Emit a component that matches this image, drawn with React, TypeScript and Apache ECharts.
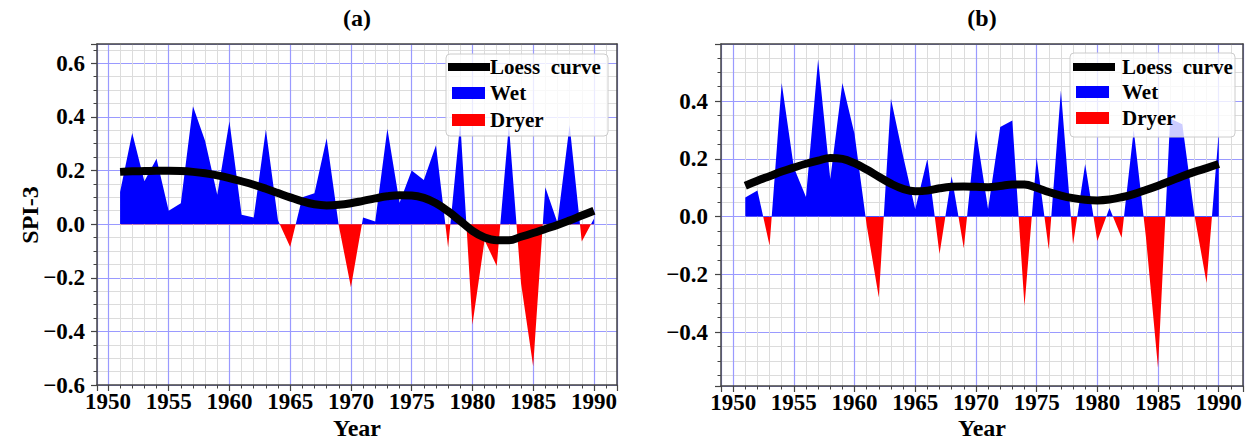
import React, { useEffect, useRef } from "react";
import * as echarts from "echarts";

// ---------- data ----------
const years = [
  1951, 1952, 1953, 1954, 1955, 1956, 1957, 1958, 1959, 1960,
  1961, 1962, 1963, 1964, 1965, 1966, 1967, 1968, 1969, 1970,
  1971, 1972, 1973, 1974, 1975, 1976, 1977, 1978, 1979, 1980,
  1981, 1982, 1983, 1984, 1985, 1986, 1987, 1988, 1989, 1990,
];

const spiA = [
  0.12, 0.34, 0.16, 0.244, 0.05, 0.078, 0.44, 0.31, 0.11, 0.384,
  0.035, 0.025, 0.353, 0.014, -0.085, 0.1, 0.115, 0.32, -0.005, -0.235,
  0.025, 0.01, 0.356, 0.08, 0.2, 0.165, 0.294, -0.0875, 0.38, -0.375,
  -0.06, -0.156, 0.37, -0.22, -0.53, 0.138, 0.005, 0.37, -0.065, 0.02,
];

const loessA = [
  0.195, 0.197, 0.198, 0.199, 0.199, 0.198, 0.195, 0.19, 0.182, 0.172,
  0.16, 0.147, 0.132, 0.116, 0.1, 0.085, 0.074, 0.07, 0.072, 0.078,
  0.087, 0.096, 0.104, 0.108, 0.107, 0.098, 0.078, 0.048, 0.012, -0.025,
  -0.05, -0.06, -0.06, -0.047, -0.033, -0.018, -0.003, 0.014, 0.032, 0.05,
];

const spiB = [
  0.066, 0.09, -0.1, 0.463, 0.17, 0.068, 0.544, 0.13, 0.463, 0.286,
  -0.03, -0.28, 0.408, 0.21, 0.025, 0.2, -0.13, 0.14, -0.11, 0.3,
  0.026, 0.31, 0.333, -0.31, 0.205, -0.114, 0.437, -0.096, 0.182, -0.085,
  0.03, -0.073, 0.3, -0.07, -0.525, 0.34, 0.32, 0.005, -0.23, 0.29,
];

const loessB = [
  0.107, 0.124, 0.14, 0.156, 0.17, 0.183, 0.194, 0.203, 0.2, 0.185,
  0.163, 0.138, 0.114, 0.096, 0.088, 0.09, 0.098, 0.103, 0.104, 0.103,
  0.102, 0.106, 0.111, 0.111, 0.1, 0.085, 0.073, 0.064, 0.058, 0.056,
  0.059, 0.067, 0.078, 0.092, 0.107, 0.123, 0.14, 0.155, 0.168, 0.182,
];

const panelTitles = ["(a)", "(b)"];
const xAxisName = "Year";
const yAxisName = "SPI-3";
const legendNames = ["Loess curve", "Wet", "Dryer"];

// ---------- styles ----------
const FONT = "Liberation Serif, Times New Roman, serif";
const FRAME = "#444444";
const MAJOR = "#9a9aff";
const MINOR = "#dcdcdc";
const WET = "#0000ff";
const DRY = "#ff0000";

const labelStyle = {
  fontFamily: FONT,
  fontWeight: "bold" as const,
  fontSize: 23,
  color: "#000",
};

const fmtYear = (v: number) => (Math.abs(v - Math.round(v / 5) * 5) < 1e-6 ? String(Math.round(v)) : "");
const fmtSpi = (v: number) => {
  if (Math.abs(v * 5 - Math.round(v * 5)) > 1e-6) return "";
  const s = (Math.round(v * 10) / 10).toFixed(1);
  return s.replace("-", "\u2212");
};

function mainX(gi: number, min: number, max: number) {
  return {
    type: "value",
    gridIndex: gi,
    min,
    max,
    minInterval: 5,
    maxInterval: 5,
    position: "bottom",
    axisLine: { show: true, onZero: false, lineStyle: { color: FRAME, width: 1.5 } },
    axisTick: { show: true, length: 6, lineStyle: { color: FRAME, width: 1.2 } },
    minorTick: { show: true, splitNumber: 5, length: 3.5, lineStyle: { color: FRAME, width: 1 } },
    axisLabel: { ...labelStyle, margin: 6, lineHeight: 20, formatter: fmtYear },
    splitLine: { show: true, lineStyle: { color: MAJOR, width: 1.2 } },
    minorSplitLine: { show: true, lineStyle: { color: MINOR, width: 1 } },
  };
}
function frameX(gi: number, min: number, max: number) {
  return {
    type: "value",
    gridIndex: gi,
    min,
    max,
    position: "top",
    axisLine: { show: true, onZero: false, lineStyle: { color: FRAME, width: 1.5 } },
    axisTick: { show: false },
    axisLabel: { show: false },
    splitLine: { show: false },
  };
}
function mainY(gi: number, min: number, max: number, margin: number) {
  return {
    type: "value",
    gridIndex: gi,
    min,
    max,
    minInterval: 0.2,
    maxInterval: 0.2,
    position: "left",
    axisLine: { show: true, onZero: false, lineStyle: { color: FRAME, width: 1.5 } },
    axisTick: { show: true, length: 6, lineStyle: { color: FRAME, width: 1.2 } },
    minorTick: { show: true, splitNumber: 4, length: 3.5, lineStyle: { color: FRAME, width: 1 } },
    axisLabel: { ...labelStyle, margin, formatter: fmtSpi },
    splitLine: { show: true, lineStyle: { color: MAJOR, width: 1.2 } },
    minorSplitLine: { show: true, lineStyle: { color: MINOR, width: 1 } },
  };
}
function frameY(gi: number, min: number, max: number) {
  return {
    type: "value",
    gridIndex: gi,
    min,
    max,
    position: "right",
    axisLine: { show: true, onZero: false, lineStyle: { color: FRAME, width: 1.5 } },
    axisTick: { show: false },
    axisLabel: { show: false },
    splitLine: { show: false },
  };
}

function legendGraphic(box: { x: number; y: number; w: number; h: number }, lineX: number, rectX: number, textX: number, ys: number[]) {
  const txt = (t: string, y: number) => ({
    type: "text",
    x: textX,
    y,
    z: 101,
    style: {
      text: t,
      fontFamily: FONT,
      fontWeight: "bold",
      fontSize: 21,
      fill: "#000",
      align: "left",
      verticalAlign: "middle",
    },
  });
  return [
    {
      type: "rect",
      z: 100,
      shape: { x: box.x, y: box.y, width: box.w, height: box.h, r: 4 },
      style: { fill: "rgba(255,255,255,0.8)", stroke: "#cccccc", lineWidth: 1 },
    },
    {
      type: "line",
      z: 101,
      shape: { x1: lineX, y1: ys[0], x2: lineX + 42, y2: ys[0] },
      style: { stroke: "#000", lineWidth: 8 },
    },
    {
      type: "rect",
      z: 101,
      shape: { x: rectX, y: ys[1] - 6, width: 33, height: 12 },
      style: { fill: WET },
    },
    {
      type: "rect",
      z: 101,
      shape: { x: rectX, y: ys[2] - 6, width: 33, height: 12 },
      style: { fill: DRY },
    },
    txt(legendNames[0].replace(" ", "\u00a0 "), ys[0]),
    txt(legendNames[1], ys[1]),
    txt(legendNames[2], ys[2]),
  ];
}

function textEl(t: string, x: number, y: number, size: number, rotation = 0) {
  return {
    type: "text",
    x,
    y,
    rotation,
    z: 50,
    style: {
      text: t,
      fontFamily: FONT,
      fontWeight: "bold",
      fontSize: size,
      fill: "#000",
      align: "center",
      verticalAlign: "middle",
    },
  };
}

const signPieces = [
  { gte: -10, lt: 0, color: DRY },
  { gte: 0, lte: 10, color: WET },
];

export default function App() {
  const ref = useRef<HTMLDivElement>(null);

  useEffect(() => {
    if (!ref.current) return;
    const chart = echarts.init(ref.current, undefined, { renderer: "svg" });

    const dataA = years.map((y, i) => [y, spiA[i]]);
    const dataLA = years.map((y, i) => [y, loessA[i]]);
    const dataB = years.map((y, i) => [y, spiB[i]]);
    const dataLB = years.map((y, i) => [y, loessB[i]]);

    const areaSeries = (xi: number, yi: number, data: number[][]) => ({
      type: "line",
      xAxisIndex: xi,
      yAxisIndex: yi,
      data,
      symbol: "none",
      showSymbol: false,
      silent: true,
      z: 2,
      lineStyle: { width: 0 },
      areaStyle: { opacity: 1 },
    });
    const loessSeries = (xi: number, yi: number, data: number[][]) => ({
      type: "line",
      xAxisIndex: xi,
      yAxisIndex: yi,
      data,
      symbol: "none",
      showSymbol: false,
      silent: true,
      smooth: 0.4,
      z: 3,
      lineStyle: { color: "#000", width: 8, cap: "butt" },
    });

    const option: any = {
      animation: false,
      backgroundColor: "#ffffff",
      textStyle: { fontFamily: FONT },
      grid: [
        { left: 97, top: 44, width: 520, height: 341 },
        { left: 721, top: 44, width: 522, height: 342 },
      ],
      xAxis: [
        mainX(0, 1949.1, 1991.9),
        frameX(0, 1949.1, 1991.9),
        mainX(1, 1949.0, 1992.0),
        frameX(1, 1949.0, 1992.0),
      ],
      yAxis: [
        mainY(0, -0.6, 0.672, 12),
        frameY(0, -0.6, 0.672),
        mainY(1, -0.587, 0.598, 13),
        frameY(1, -0.587, 0.598),
      ],
      visualMap: [
        {
          type: "piecewise",
          show: false,
          seriesIndex: 0,
          dimension: 1,
          pieces: signPieces,
          outOfRange: { color: WET },
        },
        {
          type: "piecewise",
          show: false,
          seriesIndex: 2,
          dimension: 1,
          pieces: signPieces,
          outOfRange: { color: WET },
        },
      ],
      series: [
        areaSeries(0, 0, dataA),
        loessSeries(0, 0, dataLA),
        areaSeries(2, 2, dataB),
        loessSeries(2, 2, dataLB),
      ],
      graphic: {
        elements: [
          textEl(panelTitles[0], 357, 18, 24),
          textEl(panelTitles[1], 982, 18, 24),
          textEl(xAxisName, 357, 428, 24),
          textEl(xAxisName, 982, 428, 24),
          textEl(yAxisName, 30, 215, 24, Math.PI / 2),
          ...legendGraphic({ x: 446, y: 54, w: 162, h: 82 }, 448, 452, 490, [67, 93, 120]),
          ...legendGraphic({ x: 1070, y: 53, w: 165, h: 84 }, 1073, 1076, 1122, [67, 92, 118]),
        ],
      },
    };

    chart.setOption(option);
    return () => chart.dispose();
  }, []);

  return (
    <div
      ref={ref}
      style={{ position: "absolute", left: 0, top: 0, width: 1259, height: 440, background: "#fff" }}
    />
  );
}
